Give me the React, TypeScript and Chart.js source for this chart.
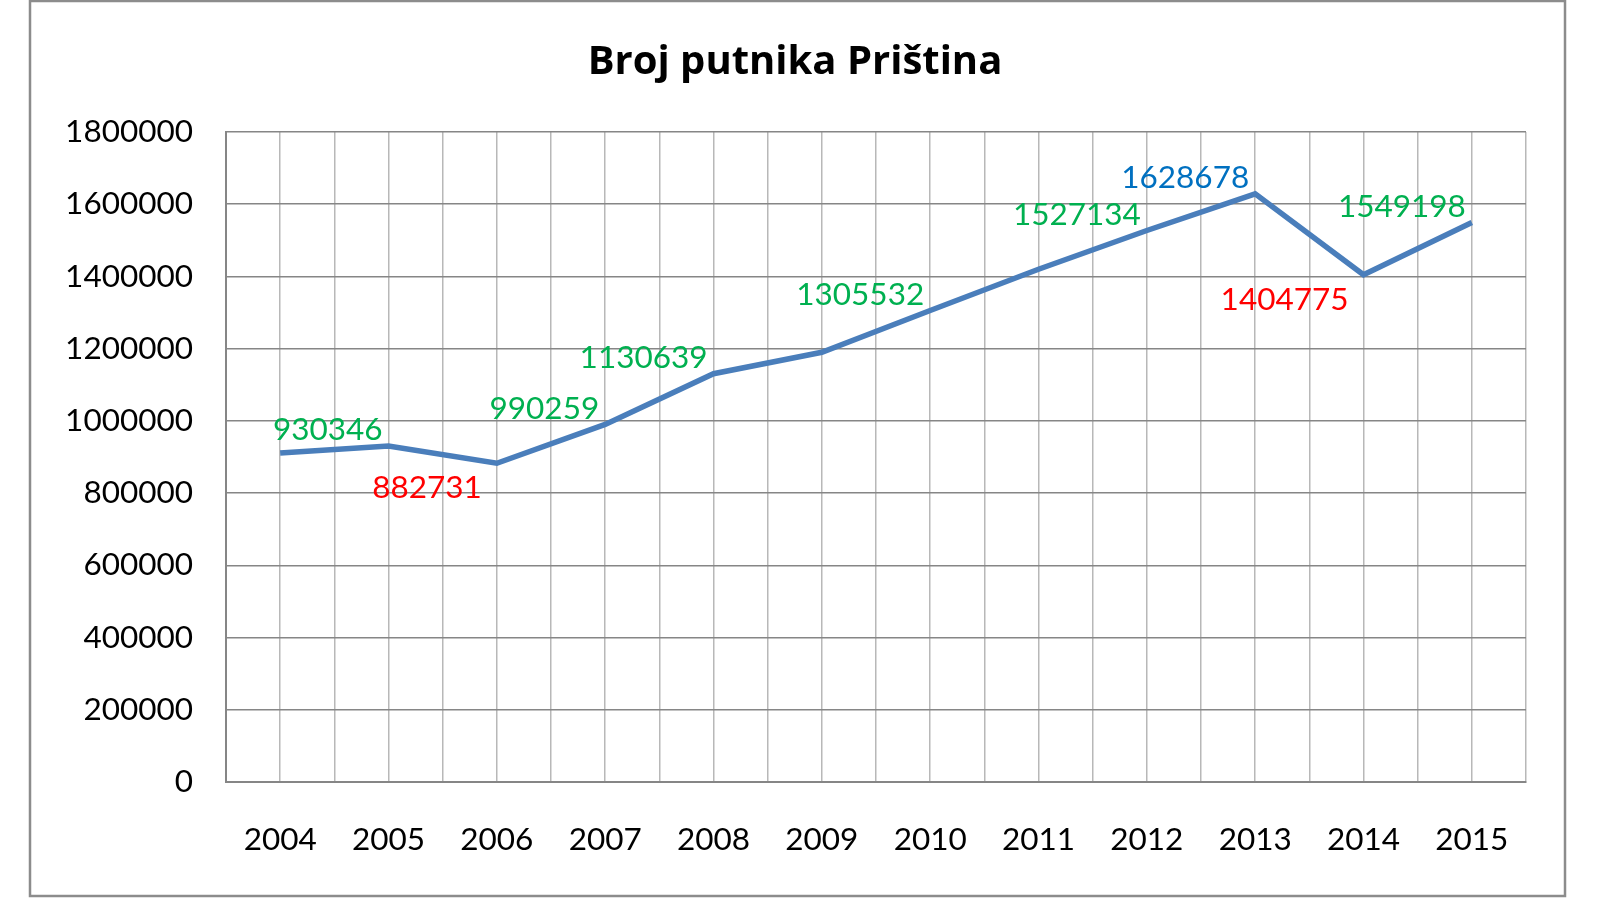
import { useEffect, useRef } from 'react';
import { Chart, registerables } from 'chart.js';
import type { ChartConfiguration, Plugin } from 'chart.js';

Chart.register(...registerables);

// Data
const years = ['2004', '2005', '2006', '2007', '2008', '2009', '2010', '2011', '2012', '2013', '2014', '2015'];
const passengers = [911000, 930346, 882731, 990259, 1130639, 1190000, 1305532, 1420000, 1527134, 1628678, 1404775, 1549198];
// years that carry a value label in the original
const labeledYears = ['2005', '2006', '2007', '2008', '2010', '2012', '2013', '2014', '2015'];
const yTicks = [0, 200000, 400000, 600000, 800000, 1000000, 1200000, 1400000, 1600000, 1800000];

const FONT = 'Lato, "Open Sans", sans-serif';

// Outer frame around the whole chart
const framePlugin: Plugin<'line'> = {
  id: 'frame',
  beforeDraw(chart) {
    const { ctx } = chart;
    ctx.save();
    ctx.strokeStyle = '#8c8c8c';
    ctx.lineWidth = 2.5;
    ctx.strokeRect(30, 1, 1535, 895);
    ctx.restore();
  },
};

// Value labels: green for a rise, red for a drop, blue for the peak
const valueLabelPlugin: Plugin<'line'> = {
  id: 'valueLabels',
  afterDatasetsDraw(chart) {
    const { ctx } = chart;
    const meta = chart.getDatasetMeta(0);
    const peak = Math.max(...passengers);
    ctx.save();
    ctx.font = `31.5px ${FONT}`;
    ctx.textAlign = 'right';
    ctx.textBaseline = 'middle';
    labeledYears.forEach((year) => {
      const i = years.indexOf(year);
      const value = passengers[i];
      const pt = meta.data[i];
      const drop = i > 0 && value < passengers[i - 1];
      let color = '#00B050';
      if (value === peak) color = '#0070C0';
      else if (drop) color = '#FF0000';
      ctx.fillStyle = color;
      const x = pt.x + (drop ? -15 : -6);
      const y = pt.y + (drop ? 25 : -16);
      ctx.fillText(String(value), x, y);
    });
    ctx.restore();
  },
};

export default function App() {
  const canvasRef = useRef<HTMLCanvasElement>(null);

  useEffect(() => {
    document.body.style.margin = '0';
    if (!canvasRef.current) return;

    const config: ChartConfiguration<'line'> = {
      type: 'line',
      data: {
        datasets: [
          {
            data: passengers.map((v, i) => ({ x: i, y: v })),
            borderColor: '#4A7EBB',
            borderWidth: 5.5,
            pointRadius: 0,
            tension: 0,
            fill: false,
          },
        ],
      },
      options: {
        animation: false,
        responsive: false,
        maintainAspectRatio: false,
        layout: { padding: { left: 30, right: 40, top: 0, bottom: 0 } },
        plugins: {
          legend: { display: false },
          tooltip: { enabled: false },
          title: {
            display: true,
            text: 'Broj putnika Priština',
            color: '#000',
            font: { family: '"Open Sans", Lato, sans-serif', size: 40, weight: 'bold', lineHeight: 1.2 },
            padding: { top: 39, bottom: 45 },
          },
        },
        scales: {
          x: {
            type: 'linear',
            min: -0.5,
            max: years.length - 0.5,
            grid: { color: '#b8b8b8', lineWidth: 1.5, drawTicks: false },
            border: { color: '#868686', width: 2 },
            ticks: {
              stepSize: 0.5,
              autoSkip: false,
              maxRotation: 0,
              padding: 39,
              color: '#000',
              font: { family: FONT, size: 31.5 },
              callback: (v) => (Number.isInteger(v) ? years[v as number] : ''),
            },
            afterFit: (scale) => {
              scale.height = 118;
              scale.paddingLeft = 0;
              scale.paddingRight = 74;
            },
          },
          y: {
            min: 0,
            max: 1800000,
            grid: { color: '#868686', lineWidth: 1.5, drawTicks: false },
            border: { color: '#868686', width: 2 },
            afterBuildTicks: (scale) => {
              scale.ticks = yTicks.map((value) => ({ value }));
            },
            ticks: {
              padding: 33,
              color: '#000',
              font: { family: FONT, size: 31.5 },
              callback: (v) => String(v),
            },
            afterFit: (scale) => {
              scale.width = 196;
            },
          },
        },
      },
      plugins: [framePlugin, valueLabelPlugin],
    };

    const chart = new Chart(canvasRef.current, config);
    return () => chart.destroy();
  }, []);

  return (
    <div style={{ width: 1600, height: 900, background: '#fff' }}>
      <canvas ref={canvasRef} width={1600} height={900} style={{ display: 'block' }} />
    </div>
  );
}
